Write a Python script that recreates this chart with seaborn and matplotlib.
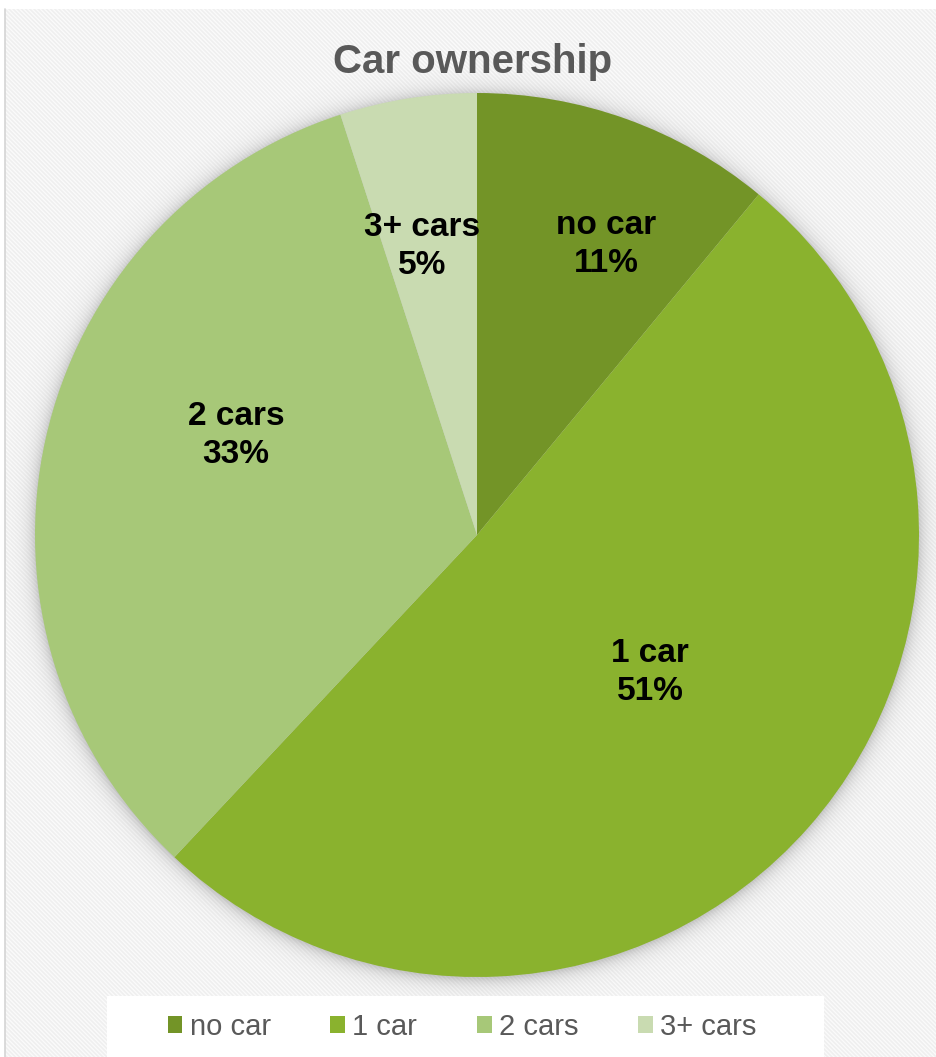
import numpy as np
import matplotlib
matplotlib.use("Agg")
import matplotlib.pyplot as plt
from matplotlib.patches import Rectangle, Patch
from matplotlib.lines import Line2D
import seaborn as sns

# Household car ownership shares (percent)
categories = ["no car", "1 car", "2 cars", "3+ cars"]
shares = [11, 51, 33, 5]
palette = ["#739427", "#8ab22e", "#a7c878", "#c9dbb1"]

# Label anchor for each slice: (fraction of radius, angle in degrees)
label_anchor = [(0.72, 66.0), (0.50, -38.5), (0.59, 157.5), (0.665, 100.8)]

sns.set_theme(style="white")
plt.rcParams["font.family"] = ["Liberation Sans", "DejaVu Sans"]
plt.rcParams["hatch.linewidth"] = 1.2

W, H = 936, 1057
fig = plt.figure(figsize=(W / 100, H / 100), dpi=100)
fig.patch.set_facecolor("white")

# Chart area with faint diagonal stripes
bg = Rectangle((5 / W, 0), 1 - 5 / W, 1 - 9 / H, transform=fig.transFigure,
               facecolor="#fbfbfb", edgecolor="#efefef", hatch="\\" * 8,
               linewidth=0, zorder=-2)
fig.patches.append(bg)
fig.add_artist(Line2D([5 / W, 5 / W], [0, 1 - 9 / H], transform=fig.transFigure,
                      color="#d4d4d4", lw=1.2, zorder=-1))

# Pie axes: centre at (477, 535) px, radius 442 px
R = 442.0
cx, cy = 477.0, H - 535.0
ax = fig.add_axes([0, 0, 1, 1])
ax.set_zorder(1)
ax.patch.set_visible(False)

# Soft outer shadow around the pie
n = 700
xs = np.linspace(-1.15, 1.15, n)
X, Y = np.meshgrid(xs, xs)
D = np.sqrt(X ** 2 + (Y + 0.004) ** 2)
alpha = 0.33 * np.exp(-np.clip(D - 1.0, 0, None) / 0.018)
img = np.zeros((n, n, 4))
img[..., :3] = 0.4
img[..., 3] = alpha
ax.imshow(img, extent=(-1.15, 1.15, -1.15, 1.15), origin="lower",
          zorder=1, interpolation="bilinear")

wedges, _ = ax.pie(shares, colors=palette, startangle=90, counterclock=False,
                   radius=1.0, center=(0, 0), frame=True,
                   wedgeprops=dict(linewidth=0, zorder=2))
ax.set_xlim(-cx / R, (W - cx) / R)
ax.set_ylim(-cy / R, (H - cy) / R)
ax.set_axis_off()

for cat, val, (rf, ang) in zip(categories, shares, label_anchor):
    t = np.deg2rad(ang)
    ax.text(rf * np.cos(t), rf * np.sin(t), f"{cat}\n{val}%",
            ha="center", va="center", fontsize=24, fontweight="bold",
            color="black", linespacing=1.28, zorder=5)

fig.text(473 / W, 1 - 62 / H, "Car ownership", ha="center", va="center",
         fontsize=29, fontweight="bold", color="#595959", zorder=3)

# Legend panel
fig.patches.append(Rectangle((107 / W, 0), (824 - 107) / W, 61 / H,
                             transform=fig.transFigure, facecolor="white",
                             edgecolor="none", zorder=2))
handles = [Patch(facecolor=c, edgecolor="none") for c in palette]
leg = fig.legend(handles, categories, loc="center", ncol=4,
                 bbox_to_anchor=(462 / W, 1 - 1027 / H), frameon=False,
                 fontsize=21, handlelength=0.5, handleheight=0.5,
                 handletextpad=0.25, columnspacing=2.05, borderpad=0)
for txt in leg.get_texts():
    txt.set_color("#595959")
leg.set_zorder(3)

fig.savefig("out.png", dpi=100, facecolor=fig.get_facecolor())
